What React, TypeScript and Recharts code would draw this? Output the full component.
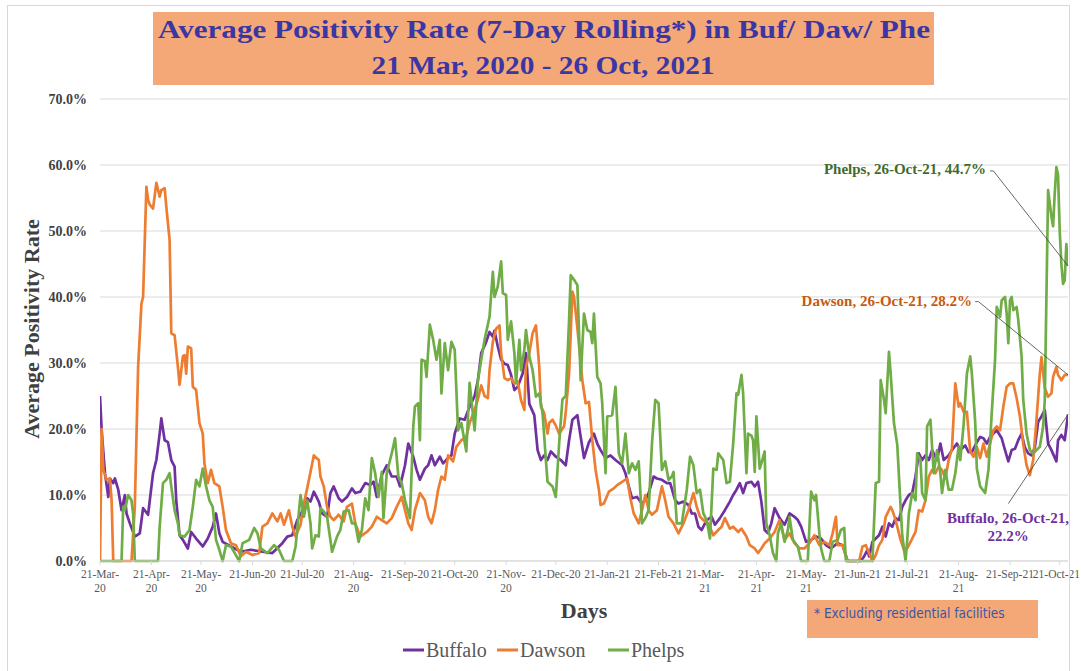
import React from 'react';
import { LineChart, Line, XAxis, YAxis, CartesianGrid, ReferenceLine } from 'recharts';

const SERIF = "'Liberation Serif', 'Times New Roman', serif";
const NARROW = "'Liberation Sans Narrow', 'DejaVu Sans Condensed', 'Liberation Sans', sans-serif";

// x = days since 21-Mar-2020 (26-Oct-2021 is day 584)
const lastDay = 584;
const tickDays = [0, 31, 61, 92, 122, 153, 184, 214, 245, 275, 306, 337, 365, 396, 426, 457, 487, 518, 549, 579];
const tickLabels = [
  '21-Mar-\n20', '21-Apr-\n20', '21-May-\n20', '21-Jun-20', '21-Jul-20', '21-Aug-\n20', '21-Sep-20',
  '21-Oct-20', '21-Nov-\n20', '21-Dec-20', '21-Jan-21', '21-Feb-21', '21-Mar-\n21', '21-Apr-\n21',
  '21-May-\n21', '21-Jun-21', '21-Jul-21', '21-Aug-\n21', '21-Sep-21', '21-Oct-21',
];
const yTicks = [0, 10, 20, 30, 40, 50, 60, 70];

// [day, positivity %]
const buffalo: [number, number][] = [
  [0, 25], [1, 19.8], [3, 13.3], [5, 9.7], [6, 12.5], [8, 11.8], [9, 12.5], [11, 10.8], [13, 7.7], [15, 10],
  [16, 7.2], [18, 5.7], [21, 3.7], [24, 4.2], [26, 8], [29, 7], [32, 13.3], [34, 15.3], [36, 19.3], [37, 21.6],
  [39, 18.3], [41, 18], [43, 15.3], [45, 14.3], [46, 9.2], [48, 3.9], [50, 3.2], [53, 1.9], [55, 4.4], [58, 3.4],
  [62, 2.2], [65, 3.4], [68, 5.2], [70, 7.2], [72, 4.2], [74, 2.9], [79, 2.2], [85, 1.4], [91, 1.7], [98, 1.4],
  [104, 1.2], [110, 2.7], [113, 3.7], [116, 3.9], [119, 6.2], [122, 7.5], [125, 9.5], [127, 9], [129, 10.5],
  [132, 9], [134, 7.2], [137, 6.7], [139, 10.3], [141, 11.3], [144, 9.5], [146, 9], [149, 9.7], [152, 11],
  [154, 10.3], [157, 10.5], [160, 11.8], [163, 11.5], [165, 12], [167, 9.7], [170, 13], [173, 14.5], [176, 12.8],
  [179, 12.8], [181, 11.3], [184, 14.5], [186, 17.8], [189, 15.8], [191, 13.8], [193, 12.3], [196, 14],
  [198, 14.5], [200, 16], [202, 14.5], [205, 15.8], [207, 14.8], [210, 15.6], [212, 16], [214, 19.3],
  [217, 21.6], [220, 21.4], [223, 23.4], [226, 25], [228, 27.4], [230, 31.5], [233, 33.2], [235, 34.7],
  [237, 34], [238, 34.9], [240, 32.5], [242, 30.5], [244, 29.9], [246, 29.7], [248, 28.2], [250, 25.9],
  [252, 26.4], [255, 28.4], [257, 31.5], [259, 23.8], [262, 22.1], [264, 16.8], [266, 15.3], [268, 16],
  [270, 15.3], [272, 16.6], [275, 15.8], [278, 15.3], [281, 14.5], [283, 18.3], [285, 21.4], [288, 22.1],
  [290, 18.8], [292, 15.6], [295, 18], [298, 19.3], [300, 17.8], [302, 16.8], [305, 15.6], [308, 16],
  [311, 15.3], [315, 14.5], [317, 13.3], [319, 11.3], [321, 9.5], [324, 9.7], [327, 8.7], [329, 9.2],
  [331, 10.3], [334, 12.8], [336, 12.5], [339, 12.3], [342, 11.8], [344, 11.8], [347, 9.2], [349, 8.7],
  [352, 9], [355, 8.5], [357, 7.2], [359, 7.2], [361, 5.2], [363, 4.7], [366, 6.2], [369, 6.7], [371, 5.5],
  [374, 6.5], [377, 7.7], [380, 9], [382, 10], [384, 10.8], [386, 11.8], [388, 10.3], [390, 11.8], [393, 12],
  [395, 11.3], [397, 12], [399, 9], [401, 4.7], [403, 4.2], [405, 5.7], [407, 8], [410, 6.5], [413, 5.5],
  [416, 7.2], [419, 6.7], [421, 6.2], [423, 5.2], [426, 2.9], [429, 3.2], [432, 3.7], [435, 3.4], [438, 2.4],
  [441, 1.9], [445, 2.7], [448, 2.4], [451, 0], [459, 0], [461, 0.7], [463, 1.7], [464, 0.7], [466, 2.9],
  [468, 3.4], [470, 3.9], [472, 5.2], [474, 3.7], [476, 5.7], [478, 5.2], [480, 6.5], [482, 6.2], [484, 8.2],
  [486, 9.2], [488, 10], [490, 10.3], [492, 12.8], [494, 16.3], [496, 15.3], [498, 16], [500, 15.3],
  [502, 16.8], [505, 15.3], [507, 17.8], [509, 15.3], [512, 16], [514, 16.8], [517, 17.8], [519, 16.8],
  [522, 17.5], [524, 16.5], [526, 16.5], [529, 18], [531, 18.8], [533, 18.6], [535, 17.8], [537, 18.8],
  [539, 19.3], [541, 19.8], [544, 18.6], [546, 16.8], [548, 15.1], [550, 16.8], [552, 17], [554, 18.3],
  [556, 19.3], [558, 17.2], [560, 16.3], [562, 16], [564, 17.2], [566, 21.1], [568, 21.9], [570, 22.9],
  [572, 17.8], [574, 16.8], [577, 15.1], [578, 18.3], [580, 19.1], [582, 18.3], [584, 22.2],
];

const dawson: [number, number][] = [
  [0, 0], [1, 20], [2, 13.8], [4, 12.3], [6, 12.5], [7, 9.2], [8, 0], [19, 0], [21, 8.2], [23, 29.4], [25, 39],
  [26, 40], [28, 56.7], [29, 54.7], [30, 54], [32, 53.4], [34, 57.3], [36, 55.2], [37, 56.2], [39, 56.5],
  [40, 53.7], [42, 48.6], [43, 34.5], [45, 34.2], [47, 29.4], [48, 26.7], [50, 31], [51, 31.2], [52, 28.4],
  [53, 32.5], [55, 32.2], [56, 26.4], [58, 25.9], [60, 20.9], [62, 19.3], [63, 14.8], [65, 11.8], [67, 13.8],
  [69, 11.8], [72, 11.3], [74, 8.2], [76, 4.7], [79, 2.7], [82, 2.4], [85, 0.7], [88, 1.4], [92, 0.9],
  [96, 1.2], [98, 5.2], [101, 5.7], [104, 7.2], [107, 6], [109, 7.2], [111, 5.5], [114, 7.7], [116, 5.2],
  [118, 3.7], [121, 5.5], [123, 8.7], [125, 11], [127, 13.5], [129, 16], [132, 15.3], [133, 12.8], [135, 11.3],
  [137, 8.2], [139, 6.7], [141, 6.2], [144, 7], [147, 6], [149, 8.2], [152, 8.7], [154, 5.7], [157, 3.7],
  [161, 4.4], [164, 5.2], [167, 6.7], [170, 6.2], [173, 5.7], [176, 6.5], [179, 8.2], [182, 9.7], [184, 7.7],
  [186, 5.7], [188, 4.7], [190, 7.7], [193, 10.3], [196, 9.2], [198, 6.7], [200, 5.7], [202, 7.7], [204, 10.8],
  [206, 12.8], [208, 12.3], [210, 16], [213, 15.1], [215, 17.3], [218, 18.3], [221, 18.8], [223, 20.9],
  [226, 22.9], [228, 24.5], [230, 26.6], [232, 25], [234, 24.7], [235, 28.9], [237, 33.2], [239, 35.2],
  [241, 35.7], [242, 31.5], [244, 27.7], [246, 27.4], [248, 27.7], [250, 26.9], [252, 27.2], [254, 24.4],
  [256, 22.9], [257, 29.4], [259, 31.5], [261, 34.5], [263, 35.7], [265, 29.4], [266, 23.4], [268, 22.4],
  [270, 19.3], [271, 20.9], [273, 21.4], [275, 20.5], [277, 19.3], [280, 20.4], [281, 22.6], [283, 28.4],
  [285, 40.8], [286, 40], [288, 35.3], [291, 27.4], [293, 23.9], [295, 24.1], [297, 18.3], [299, 13.8],
  [301, 10.8], [302, 8.5], [304, 8.7], [307, 10.5], [310, 11], [312, 11.5], [315, 12], [318, 12.5], [320, 9.5],
  [322, 7.2], [325, 5.7], [327, 7.7], [329, 10], [331, 7.7], [333, 7], [336, 7.7], [339, 11.3], [341, 9.2],
  [343, 6.7], [346, 5.7], [349, 4.2], [352, 5.7], [355, 7.7], [358, 10.3], [360, 8.2], [362, 6.7], [365, 6],
  [367, 5.7], [370, 3.9], [373, 4.7], [375, 5.2], [377, 6.5], [380, 4.9], [382, 5.2], [385, 4.4], [387, 4.9],
  [390, 3.7], [392, 2.4], [395, 1.9], [397, 1.2], [399, 1.9], [401, 2.7], [404, 3.4], [407, 4.4], [410, 6.2],
  [413, 3.2], [416, 4.2], [419, 2.7], [422, 1.9], [425, 1.9], [428, 2.7], [431, 3.9], [434, 2.4], [437, 2.9],
  [440, 2.4], [442, 4.2], [444, 6.7], [445, 2.4], [448, 2.4], [451, 0], [458, 0], [460, 2.2], [462, 2.4],
  [464, 1.2], [466, 0], [468, 0.9], [470, 2.4], [472, 3.2], [474, 6.7], [477, 8.2], [478, 7.7], [480, 6.2],
  [483, 3.2], [485, 1.7], [487, 1.9], [490, 3.4], [492, 4.4], [494, 7.7], [496, 7.5], [498, 9.2], [500, 12.8],
  [502, 13.8], [504, 13.3], [506, 14.3], [508, 13.8], [510, 12.5], [512, 15.3], [514, 17], [516, 26.9],
  [518, 23.4], [519, 23.9], [521, 22.6], [523, 22.6], [525, 16.6], [527, 15.8], [529, 17.3], [531, 15.6],
  [533, 17.8], [535, 15.8], [537, 17.8], [539, 19.8], [541, 20.4], [543, 19.8], [545, 23.4], [547, 26.4],
  [549, 26.9], [551, 26.9], [553, 24.7], [555, 21.9], [557, 17.7], [559, 14.5], [561, 13], [563, 15.3],
  [565, 21.4], [567, 28.4], [568, 30.9], [570, 26.2], [572, 24.9], [574, 25.4], [575, 27.9], [577, 29.4],
  [578, 28.2], [580, 27.4], [582, 28.2], [584, 28.2],
];

const phelps: [number, number][] = [
  [0, 0], [13, 0], [14, 8.2], [15, 7.7], [17, 10], [19, 9.2], [20, 7.2], [21, 0], [35, 0], [36, 5.2], [38, 11.8],
  [40, 12.3], [42, 13.3], [43, 11.3], [45, 7.7], [47, 5.7], [48, 3.9], [51, 3.7], [54, 4.7], [56, 8.2],
  [58, 12.3], [60, 11.3], [62, 14], [64, 11.3], [66, 9.2], [68, 8.2], [70, 3.2], [72, 1.7], [74, 0], [76, 2.4],
  [79, 2.2], [82, 0.9], [84, 0], [86, 2.7], [90, 3.2], [93, 5], [95, 4.2], [97, 1.9], [101, 1.2], [105, 2.4],
  [108, 1.7], [111, 0], [116, 0], [118, 2.2], [121, 10], [123, 6.7], [125, 9.2], [127, 5.7], [128, 1.9],
  [130, 3.9], [132, 3.7], [133, 8], [135, 7.5], [137, 6.7], [140, 1.4], [143, 3.7], [145, 4.7], [147, 7.5],
  [150, 7.7], [152, 5.7], [154, 5.7], [156, 2.9], [158, 4.7], [160, 9.5], [162, 7.7], [164, 15.6], [166, 13.3],
  [168, 9.7], [170, 13.5], [171, 6.5], [173, 13.3], [175, 15.3], [176, 16.3], [178, 18.6], [180, 12.8],
  [182, 11.8], [184, 9.2], [187, 6.5], [189, 20.4], [190, 23.4], [192, 23.9], [193, 18.3], [194, 30.5],
  [196, 30.3], [197, 27.9], [199, 35.8], [201, 33.5], [203, 30.5], [205, 33.5], [206, 25.4], [208, 33],
  [210, 28.9], [212, 33.2], [214, 32], [216, 19.8], [218, 20.9], [221, 16.6], [223, 27], [226, 19.8],
  [228, 27.4], [230, 30.5], [232, 33.5], [235, 37], [237, 43.8], [238, 40], [240, 41.6], [242, 45.4],
  [243, 40.6], [245, 40.3], [246, 33.5], [248, 36.3], [250, 31.5], [251, 26.9], [253, 33.5], [254, 28.9],
  [256, 32], [257, 35], [259, 31], [261, 28.9], [263, 24.9], [265, 25.4], [267, 22.4], [269, 15.3], [270, 12],
  [273, 11.3], [275, 9.7], [277, 17.8], [279, 24.5], [281, 25], [283, 36.5], [284, 43.3], [286, 42.6],
  [288, 41.8], [290, 27.4], [292, 37.5], [294, 35], [296, 34.7], [297, 33], [298, 37.5], [300, 27.9],
  [302, 26.9], [303, 23.9], [305, 13.3], [306, 21.9], [309, 22.1], [311, 26.4], [313, 16.3], [315, 14.8],
  [317, 19.3], [319, 13.3], [321, 14.8], [323, 13.8], [325, 15.1], [327, 5.7], [329, 6.5], [331, 7.7],
  [333, 17.8], [335, 24.4], [337, 23.9], [339, 13.8], [341, 15.1], [343, 12.3], [345, 12.8], [346, 13.5],
  [348, 5.7], [351, 5.7], [354, 10.8], [356, 15.8], [358, 14.5], [360, 10.3], [362, 10.8], [364, 7.2],
  [366, 6.2], [368, 3.4], [370, 14], [372, 13.8], [373, 16.3], [376, 15.3], [378, 11.8], [380, 12], [382, 17.8],
  [384, 25.4], [385, 25.2], [387, 28.2], [388, 25.4], [390, 13.3], [391, 19.3], [393, 19], [394, 18.3],
  [395, 13.5], [396, 21.9], [398, 14], [399, 14.8], [401, 16.6], [402, 5.7], [404, 3.9], [406, 1.2], [408, 0],
  [409, 4.2], [411, 5.7], [413, 2.9], [415, 4.7], [416, 6.7], [418, 3.2], [421, 2.2], [423, 0], [427, 0],
  [429, 10.5], [431, 9.2], [432, 10], [434, 4.2], [435, 1.9], [437, 0], [440, 0], [442, 2.9], [445, 3.2],
  [447, 4.7], [449, 5], [450, 0], [466, 0], [468, 11.8], [470, 12], [471, 27.4], [473, 24.4], [474, 22.4],
  [476, 31.7], [477, 28.4], [479, 20.9], [481, 17.6], [483, 8.2], [484, 3.9], [486, 0], [487, 3.2], [488, 7.2],
  [490, 10.3], [492, 9.2], [493, 16.3], [495, 15.3], [496, 10.3], [498, 9.2], [499, 20.4], [501, 21.4],
  [503, 13.3], [505, 16.8], [507, 13.3], [508, 10.3], [510, 13.8], [512, 10.8], [514, 10.8], [516, 13.3],
  [518, 17.3], [519, 15.3], [521, 20.6], [523, 28.4], [525, 31], [526, 28.4], [528, 21.1], [529, 14],
  [531, 11.3], [534, 10.3], [536, 13.8], [538, 22.4], [540, 30.5], [541, 38.5], [543, 37], [544, 39.5],
  [546, 40], [547, 37.5], [548, 33], [549, 39.5], [550, 40], [551, 38], [553, 38.5], [554, 36.5], [556, 31],
  [557, 24.4], [559, 19.3], [561, 16.8], [563, 16.3], [565, 16.8], [567, 17.3], [569, 20.4], [570, 24.4],
  [572, 56.2], [574, 52.2], [575, 50.7], [576, 55.7], [577, 59.7], [578, 58.5], [579, 50], [580, 45], [581, 42],
  [582, 42.5], [583, 48], [584, 44.7],
];

const series = [
  { name: 'Buffalo', color: '#7030a0', points: buffalo },
  { name: 'Dawson', color: '#ed7d31', points: dawson },
  { name: 'Phelps', color: '#70ad47', points: phelps },
];

// callout leader lines, in (day, %) coordinates
const leaders: [number, number][][] = [
  [[537, 59.1], [539, 59.1]],
  [[539, 59.1], [lastDay, 44.7]],
  [[528, 39.3], [530, 39.3]],
  [[530, 39.3], [lastDay, 28.2]],
  [[548, 8.7], [lastDay, 22.2]],
];

function DayTick(props: any) {
  const { x, y, payload } = props;
  const label = tickLabels[tickDays.indexOf(payload.value)] ?? '';
  // keep the last label inside the picture
  const cx = Math.min(x, 1056.5);
  return (
    <text x={cx} y={y} textAnchor="middle" fontFamily={SERIF} fontSize={11.5} fill="#595959">
      {label.split('\n').map((s, i) => (
        <tspan key={i} x={cx} dy={i === 0 ? 11 : 14}>
          {s}
        </tspan>
      ))}
    </text>
  );
}

const legendX = [403, 497, 608];

export default function App() {
  return (
    <div style={{ position: 'absolute', left: 0, top: 0, width: 1081, height: 671, background: '#fff', overflow: 'hidden' }}>
      <LineChart width={1081} height={671} margin={{ top: 99, right: 13, bottom: 70, left: 40 }}>
        <CartesianGrid vertical={false} stroke="#d9d9d9" />
        <XAxis
          type="number"
          dataKey="day"
          domain={[0, lastDay]}
          ticks={tickDays}
          interval={0}
          allowDataOverflow
          height={40}
          tickSize={4}
          tickMargin={2}
          axisLine={{ stroke: '#d9d9d9' }}
          tickLine={{ stroke: '#d9d9d9' }}
          tick={(p: any) => <DayTick {...p} />}
        />
        <YAxis
          type="number"
          domain={[0, 70]}
          ticks={yTicks}
          width={60}
          axisLine={false}
          tickLine={false}
          tickSize={0}
          tickMargin={13}
          tickFormatter={(v: number) => `${v.toFixed(1)}%`}
          tick={{ fontFamily: SERIF, fontSize: 14, fontWeight: 700, fill: '#404040' }}
        />
        {series.map((s) => (
          <Line
            key={s.name}
            name={s.name}
            data={s.points.map(([day, rate]) => ({ day, rate }))}
            dataKey="rate"
            type="linear"
            stroke={s.color}
            strokeWidth={2.7}
            strokeLinejoin="round"
            dot={false}
            activeDot={false}
            isAnimationActive={false}
          />
        ))}
        {leaders.map((seg, i) => (
          <ReferenceLine
            key={i}
            segment={seg.map(([x, y]) => ({ x, y }))}
            stroke="#404040"
            strokeWidth={0.8}
            ifOverflow="visible"
          />
        ))}
      </LineChart>

      <svg width={1081} height={671} style={{ position: 'absolute', left: 0, top: 0, pointerEvents: 'none' }}>
        <rect x={7.5} y={5.5} width={1062} height={700} fill="none" stroke="#d9d9d9" />

        <rect x={153} y={12} width={781} height={73} fill="#f4a877" />
        <text x={544} y={37.5} textAnchor="middle" textLength={772} lengthAdjust="spacingAndGlyphs"
          fontFamily={SERIF} fontWeight={700} fontSize={25} fill="#3a36a4">
          Average Positivity Rate (7-Day Rolling*) in Buf/ Daw/ Phe
        </text>
        <text x={543} y={74} textAnchor="middle" textLength={343} lengthAdjust="spacingAndGlyphs"
          fontFamily={SERIF} fontWeight={700} fontSize={25} fill="#3a36a4">
          21 Mar, 2020 - 26 Oct, 2021
        </text>

        <text transform="rotate(-90 39 329)" x={39} y={329} textAnchor="middle"
          fontFamily={SERIF} fontWeight={700} fontSize={22} fill="#404040">
          Average Positivity Rate
        </text>
        <text x={584} y={618} textAnchor="middle" fontFamily={SERIF} fontWeight={700} fontSize={22} fill="#404040">
          Days
        </text>

        <text x={986} y={173.5} textAnchor="end" fontFamily={SERIF} fontWeight={700} fontSize={15} fill="#3f6b2b">
          Phelps, 26-Oct-21, 44.7%
        </text>
        <text x={972} y={306} textAnchor="end" fontFamily={SERIF} fontWeight={700} fontSize={15} fill="#c55a11">
          Dawson, 26-Oct-21, 28.2%
        </text>
        <text x={1008} y={523} textAnchor="middle" fontFamily={SERIF} fontWeight={700} fontSize={15} fill="#7030a0">
          Buffalo, 26-Oct-21,
        </text>
        <text x={1008} y={541} textAnchor="middle" fontFamily={SERIF} fontWeight={700} fontSize={15} fill="#7030a0">
          22.2%
        </text>

        <rect x={807} y={600} width={231} height={38} fill="#f4a877" />
        <text x={814} y={618} fontFamily={NARROW} fontSize={13.5} fill="#3b56a8">
          * Excluding residential facilities
        </text>

        {series.map((s, i) => (
          <g key={s.name}>
            <line x1={legendX[i]} x2={legendX[i] + 21} y1={650} y2={650} stroke={s.color} strokeWidth={3} />
            <text x={legendX[i] + 23} y={656.5} fontFamily={SERIF} fontSize={20} fill="#595959">
              {s.name}
            </text>
          </g>
        ))}
      </svg>
    </div>
  );
}
